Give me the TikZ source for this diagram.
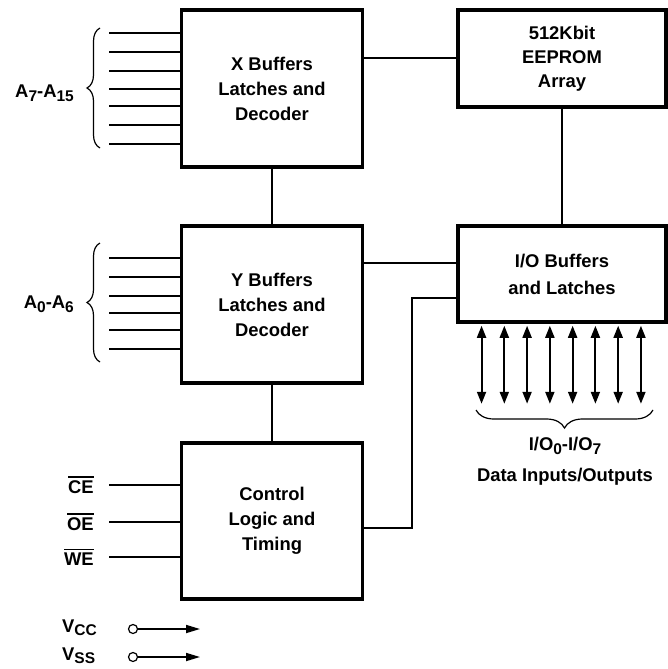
\documentclass[tikz,border=0pt]{standalone}
\usepackage{fontspec}
\setmainfont{Liberation Sans}
\usetikzlibrary{arrows.meta,decorations.pathreplacing}
\newcommand{\lowsub}[1]{\raisebox{-3.5pt}{\fontsize{15.5}{15.5}\selectfont #1}}
\newcommand{\barsig}[1]{\setbox0\hbox{#1}\rlap{\rule[\dimexpr\ht0+2.5pt\relax]{\wd0}{1.6pt}}\box0}

\begin{document}
\begin{tikzpicture}[x=1pt, y=-1pt,
        font=\fontsize{18.4}{25}\selectfont\bfseries,
        block/.style={rectangle, draw, line width=3.5pt, align=center, inner sep=0pt},
        wire/.style={line width=2pt},
        bus/.style={line width=1.2pt, decorate, decoration={brace, amplitude=#1}},
        iotip/.style={{Triangle[length=12pt,width=9pt]}-{Triangle[length=12pt,width=9pt]}, line width=2pt},
        pinring/.style={circle, draw, line width=1.2pt, minimum size=9pt, inner sep=0pt},
        tag/.style={inner sep=0pt}
    ]
        \useasboundingbox (0,0) rectangle (667,669);
        % blocks
        \node[block, minimum width=181pt, minimum height=157pt] (xbuf) at (272,88.5)
            {X Buffers\\Latches and\\Decoder};
        \node[block, minimum width=181pt, minimum height=157pt] (ybuf) at (272,304.5)
            {Y Buffers\\Latches and\\Decoder};
        \node[block, minimum width=181pt, minimum height=156pt] (ctrl) at (272,521)
            {Control\\Logic and\\Timing};
        \node[block, minimum width=208pt, minimum height=97pt, font=\fontsize{18.4}{24}\selectfont\bfseries] (eeprom) at (562,58.5)
            {512Kbit\\EEPROM\\Array};
        \node[block, minimum width=208pt, minimum height=96pt, font=\fontsize{18.4}{27}\selectfont\bfseries] (iobuf) at (562,274)
            {I/O Buffers\\and Latches};
        % links between blocks
        \draw[wire] (eeprom.west) -- (eeprom.west -| xbuf.east);
        \draw[wire] (xbuf.south) -- (ybuf.north);
        \draw[wire] (ybuf.south) -- (ctrl.north);
        \draw[wire] (eeprom.south) -- (iobuf.north);
        \draw[wire] ([yshift=11pt]iobuf.west) -- ([yshift=11pt]iobuf.west -| ybuf.east);
        \draw[wire] ([yshift=-6.5pt]ctrl.east) -- ++(48,0) |- ([yshift=-24pt]iobuf.west);
        % address inputs
        \foreach \y in {33,52,71,89,106,125,144} {
            \draw[wire] (xbuf.west |- 0,\y) -- ++(-71,0);
        }
        \foreach \y in {258,277,296,313,330,349} {
            \draw[wire] (ybuf.west |- 0,\y) -- ++(-71,0);
        }
        \draw[bus=13pt] (100,148) -- (100,28);
        \draw[bus=13pt] (100,362) -- (100,243);
        \node[tag, anchor=east] (xaddr) at (74,93) {A\lowsub{7}-A\lowsub{15}};
        \node[tag, anchor=east] (yaddr) at (74,304) {A\lowsub{0}-A\lowsub{6}};
        % control inputs
        \foreach \sig/\dy in {CE/36, OE/-1, WE/-36} {
            \draw[wire] ([yshift=\dy pt]ctrl.west) -- ++(-71,0)
                node[tag, anchor=east, xshift=-14pt] (sig\sig) {\barsig{\sig}};
        }
        % data lines
        \foreach \i in {0,...,7} {
            \draw[iotip] ([xshift={25.3pt+22.77pt*\i}, yshift=-2pt]iobuf.south west) -- ++(0,78);
        }
        \draw[bus=18pt] (653,410) -- (476,410);
        \node[tag] (iolabel) at (565,446) {I/O\lowsub{0}-I/O\lowsub{7}};
        \node[tag] (iodesc) at (565,477) {Data Inputs/Outputs};
        % supply pins
        \node[pinring] (vccpin) at (133,629) {};
        \node[pinring] (vsspin) at (133,657) {};
        \coordinate (vccend) at (200,629);
        \coordinate (vssend) at (200,657);
        \draw[line width=1.7pt, -{Triangle[length=14pt,width=8pt]}] (vccpin) -- (vccend);
        \draw[line width=1.7pt, -{Triangle[length=14pt,width=8pt]}] (vsspin) -- (vssend);
        \node[tag, anchor=west] (vcclabel) at (62,627.5) {V\lowsub{CC}};
        \node[tag, anchor=west] (vsslabel) at (62,655.5) {V\lowsub{SS}};
    \end{tikzpicture}
\end{document}
